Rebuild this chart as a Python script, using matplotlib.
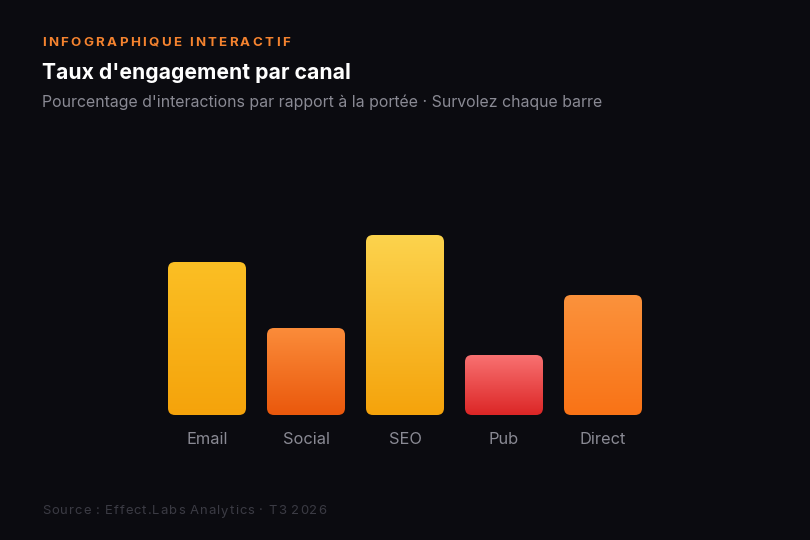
import matplotlib
matplotlib.use("Agg")
import matplotlib.pyplot as plt
import numpy as np
from matplotlib.patches import FancyBboxPatch
from matplotlib.colors import LinearSegmentedColormap

plt.rcParams['font.family'] = ['Inter', 'DejaVu Sans']

# data
canaux = ["Email", "Social", "SEO", "Pub", "Direct"]
taux = [5.1, 2.9, 6.0, 2.0, 4.0]
couleurs_haut = ["#fbbf24", "#fb8c3a", "#fcd34d", "#f87171", "#fb923c"]
couleurs_bas = ["#f5a30b", "#ea580c", "#f5a30b", "#dc2626", "#f97316"]

BG = "#0b0b10"
W, H = 810, 540

fig = plt.figure(figsize=(8.1, 5.4), dpi=100, facecolor=BG)


def fy(px):
    return 1 - px / H


def spaced_text(x, y, s, spacing, **kw):
    # draw text char by char to imitate letter spacing
    r = fig.canvas.get_renderer()
    xpx = x
    for ch in s:
        t = fig.text(xpx / W, fy(y), ch, va="center", ha="left", **kw)
        w = t.get_window_extent(renderer=r).width
        if ch == " ":
            w = kw.get("fontsize", 10) * 0.35
        xpx += w + spacing


spaced_text(42, 43, "INFOGRAPHIQUE INTERACTIF", 2.3, fontsize=9.6,
            fontweight="bold", color="#f5832f")
fig.text(42 / W, fy(73), "Taux d'engagement par canal", fontsize=15.2,
         fontweight="bold", color="#ffffff", va="center", ha="left")
fig.text(42 / W, fy(102.5), "Pourcentage d'interactions par rapport à la portée · Survolez chaque barre",
         fontsize=11.45, color="#8a8a94", va="center", ha="left")
spaced_text(42, 511.5, "Source : Effect.Labs Analytics · T3 2026", 1.0, fontsize=9.4,
            color="#3b3b44")

# axes placed so bar slots are 99 px wide, baseline at y=415
left = (207 - 49.5) / W
ax = fig.add_axes([left, (H - 415) / H, 495 / W, 180 / H])
ax.set_facecolor("none")
ax.set_xlim(-0.5, 4.5)
ax.set_ylim(0, max(taux))
for sp in ax.spines.values():
    sp.set_visible(False)
ax.tick_params(length=0, pad=12, labelsize=11.8, labelcolor="#8a8a94", left=False, labelleft=False)

x = np.arange(len(canaux))
bars = ax.bar(x, taux, width=0.788, color="none")
ax.set_xticks(x)
ax.set_xticklabels(canaux)

px_x = 495 / 5.0   # pixels per x unit
px_y = 180 / max(taux)
rad = 7.0
grad = np.linspace(0, 1, 256).reshape(-1, 1)
for b, c1, c2 in zip(bars, couleurs_haut, couleurs_bas):
    x0, y0 = b.get_x(), b.get_y()
    w, h = b.get_width(), b.get_height()
    patch = FancyBboxPatch((x0, y0), w, h,
                           boxstyle=f"round,pad=0,rounding_size={rad / px_x}",
                           mutation_aspect=px_x / px_y,
                           facecolor="none", edgecolor="none")
    ax.add_patch(patch)
    cmap = LinearSegmentedColormap.from_list("g", [c1, c2])
    im = ax.imshow(grad, cmap=cmap, aspect="auto", extent=(x0, x0 + w, y0, y0 + h),
                   origin="upper", zorder=2)
    im.set_clip_path(patch)
    b.set_visible(False)

ax.set_xlim(-0.5, 4.5)
ax.set_ylim(0, max(taux))

fig.savefig("out.png", dpi=100, facecolor=BG)
